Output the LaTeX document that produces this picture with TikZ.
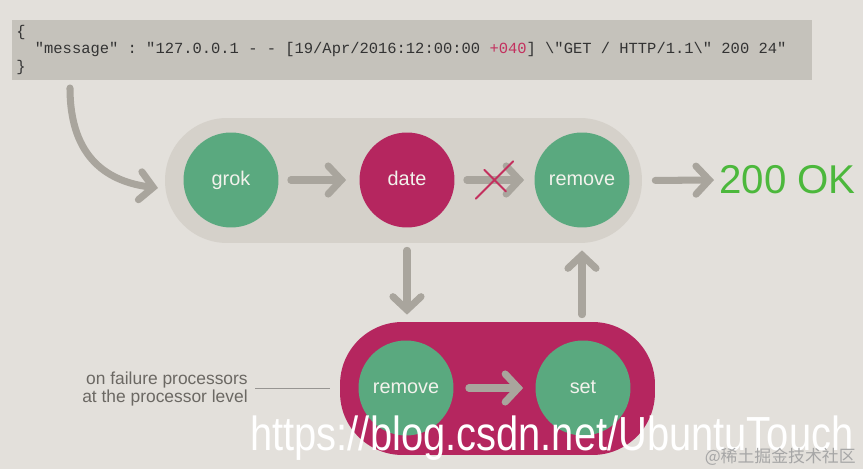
\documentclass[tikz,border=0pt]{standalone}
\usepackage{fontspec}
\setmainfont{Liberation Sans}
\setmonofont{Liberation Mono}
\newfontfamily\cjkfont{Noto Sans CJK SC}
\usetikzlibrary{arrows.meta, positioning, shapes.misc}

\definecolor{bgcolor}{HTML}{E3E0DB}
\definecolor{codegray}{HTML}{C5C2BB}
\definecolor{pipegray}{HTML}{D5D1CA}
\definecolor{arrowgray}{HTML}{A9A59D}
\definecolor{procgreen}{HTML}{5AA97F}
\definecolor{proccrimson}{HTML}{B5265F}
\definecolor{crossred}{HTML}{C3305E}
\definecolor{okgreen}{HTML}{4CB83C}
\definecolor{notegray}{HTML}{6B6863}
\definecolor{circletext}{HTML}{F2F2EC}

\tikzset{
  flow/.style={line width=4pt, color=arrowgray, line cap=round,
    -{Straight Barb[length=7.5pt, width=16pt, line cap=round]}},
  proc/.style={circle, minimum size=1.9cm, inner sep=0pt, text height=1.6ex, text depth=0.4ex,
    font=\fontsize{11.3}{13}\selectfont, text=circletext},
  okproc/.style={proc, fill=procgreen},
  failproc/.style={proc, fill=proccrimson},
  pipe/.style={rectangle, inner sep=0pt},
}

\begin{document}
\begin{tikzpicture}[x=0.02cm, y=-0.02cm]
\useasboundingbox[fill=bgcolor] (0,0) rectangle (863,469);

% input document
\node[fill=codegray, minimum width=16cm, minimum height=1.2cm, inner sep=0pt] (code) at (412,50) {};
\node[anchor=west, align=left, inner sep=0pt, text=black!80,
  font=\ttfamily\fontsize{8.8}{9.9}\selectfont] (msg) at (16,50)
  {\{\\
   \ \ "message" : "127.0.0.1 - - [19/Apr/2016:12:00:00 \textcolor{crossred}{+040}] \textbackslash"GET / HTTP/1.1\textbackslash" 200 24"\\
   \}};

% pipelines
\node[pipe, fill=pipegray, rounded corners=1.24cm, minimum width=9.54cm, minimum height=2.5cm] (mainpipe) at (403.5,180.5) {};
\node[pipe, fill=proccrimson, rounded corners=1.25cm, minimum width=6.3cm, minimum height=2.66cm] (failpipe) at (497.5,388.5) {};

% processors
\node[okproc] (grok) at (231,180) {grok};
\node[failproc] (date) at (407,180) {date};
\node[okproc] (remove) at (582,180) {remove};
\node[okproc] (fremove) at (406,388) {remove};
\node[okproc] (set) at (583,388) {set};

\node[anchor=west, inner sep=0pt, text=okgreen, font=\fontsize{22.9}{26}\selectfont] (ok) at (719,180) {200 OK};

\node[anchor=east, align=right, inner sep=0pt, text=notegray,
  font=\fontsize{9.9}{10.2}\selectfont] (note) at (248,389)
  {on failure processors\\at the processor level};

% connectors
\coordinate (docout) at (70,88);
\draw[flow] (docout) .. controls (70,160) and (110,182) .. (158,188);
\draw[flow, shorten <=0.24cm, shorten >=0.26cm] (grok) -- (date);
\draw[flow, shorten <=0.24cm, shorten >=0.2cm] (date) -- (remove)
  node[midway, cross out, draw=crossred, line width=1.2pt, minimum size=0.7cm] (blocked) {};
\draw[flow, shorten <=0.26cm, shorten >=0.1cm] (mainpipe.east) -- (ok.west);
\draw[flow, shorten <=0.14cm, shorten >=0.14cm] (date |- mainpipe.south) -- (date |- failpipe.north);
\draw[flow, shorten <=0.14cm, shorten >=0.14cm] (remove |- failpipe.north) -- (remove |- mainpipe.south);
\draw[flow, shorten <=0.3cm, shorten >=0.24cm] (fremove) -- (set);
\draw[notegray!70, line width=0.6pt, shorten <=0.14cm, shorten >=0.2cm] (note.east |- failpipe.west) -- (failpipe.west);

% watermark
\node[anchor=west, inner sep=0pt, text=white, font=\fontsize{22.7}{26}\selectfont] (mark) at (250,438)
  {\scalebox{1}[1.2]{https://blog.csdn.net/UbuntuTouch}};
\node[anchor=east, inner sep=0pt, text=black!35, font=\cjkfont\fontsize{9.6}{11}\selectfont] (site) at (856,457)
  {@稀土掘金技术社区};
\end{tikzpicture}
\end{document}
